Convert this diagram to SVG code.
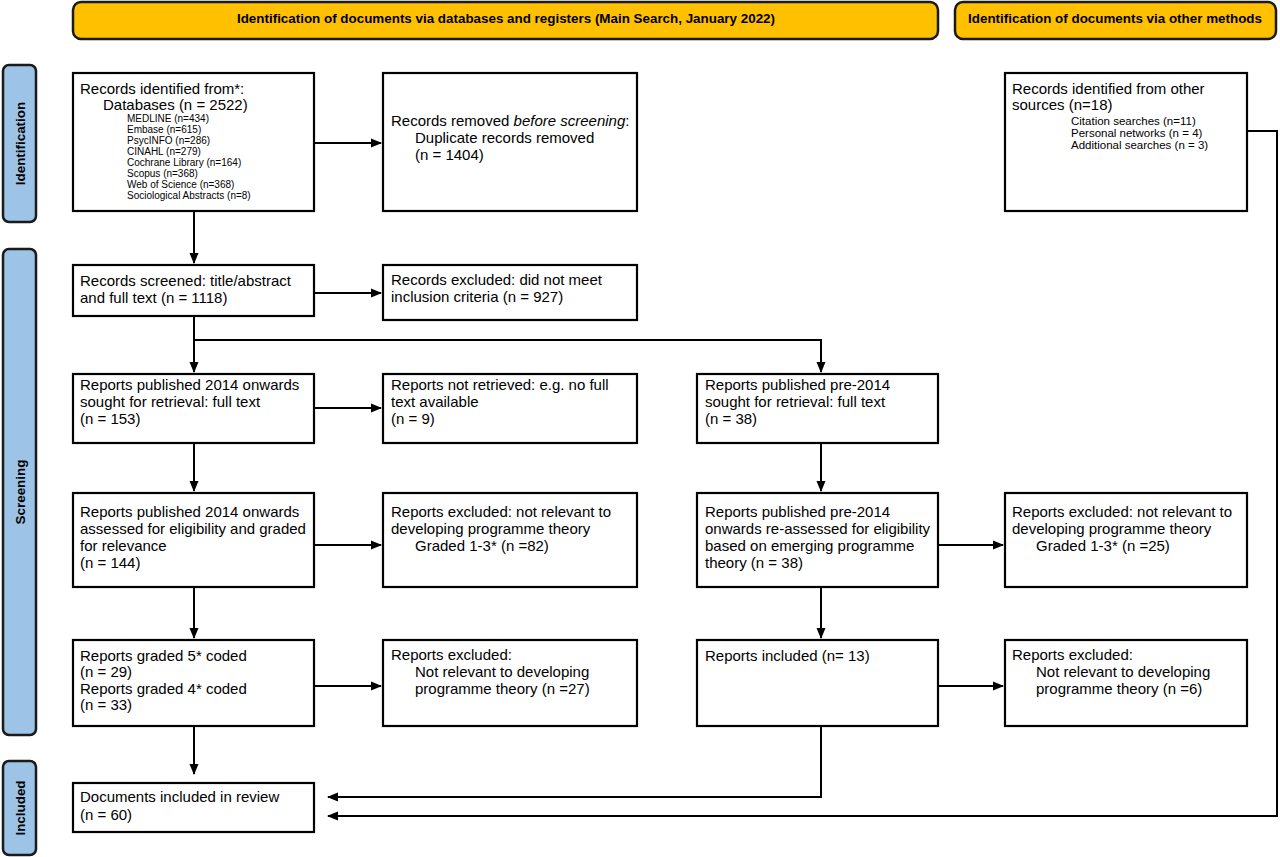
<svg xmlns="http://www.w3.org/2000/svg" width="1280" height="857" viewBox="0 0 1280 857">
<defs>
<marker id="ah" markerWidth="11" markerHeight="10" refX="10" refY="5" orient="auto" markerUnits="userSpaceOnUse">
<path d="M0,0.5 L11,5 L0,9.5 Z" fill="#000"/>
</marker>
<style>
.hdr{fill:#FFC000;stroke:#1a1a1a;stroke-width:2.5}
.side{fill:#9DC3E6;stroke:#1a1a1a;stroke-width:2.5}
.box{fill:#fff;stroke:#000;stroke-width:2.2}
.t{font-family:"Liberation Sans",Arial,sans-serif;font-size:15px;fill:#000}
.s{font-family:"Liberation Sans",Arial,sans-serif;font-size:10px;fill:#000}
.s2{font-family:"Liberation Sans",Arial,sans-serif;font-size:11.5px;fill:#000}
.b{font-family:"Liberation Sans",Arial,sans-serif;font-size:13.4px;font-weight:bold;fill:#000}
.c{fill:none;stroke:#000;stroke-width:2}
</style>
</defs>
<rect width="1280" height="857" fill="#fff"/>

<g id="hdr-main"><rect class="hdr" x="73" y="2" width="865" height="37" rx="8"/><text class="b" x="506" y="22.5" text-anchor="middle">Identification of documents via databases and registers (Main Search, January 2022)</text></g>
<g id="hdr-other"><rect class="hdr" x="955" y="2" width="321" height="37" rx="8"/><text class="b" x="1115" y="22.5" text-anchor="middle">Identification of documents via other methods</text></g>

<g id="side-ident"><rect class="side" x="3" y="65" width="33" height="157" rx="6"/><text class="b" transform="translate(24.5,143.5) rotate(-90)" text-anchor="middle">Identification</text></g>
<g id="side-screen"><rect class="side" x="3" y="249" width="33" height="486" rx="6"/><text class="b" transform="translate(24.5,492) rotate(-90)" text-anchor="middle">Screening</text></g>
<g id="side-incl"><rect class="side" x="3" y="761" width="33" height="94" rx="6"/><text class="b" transform="translate(24.5,808) rotate(-90)" text-anchor="middle">Included</text></g>

<g id="n-identified"><rect class="box" x="73" y="73" width="241" height="138"/>
<text class="t" x="80" y="94">Records identified from*:</text>
<text class="t" x="103" y="110">Databases (n = 2522)</text>
<text class="s" x="127" y="122">MEDLINE (n=434)</text>
<text class="s" x="127" y="133">Embase (n=615)</text>
<text class="s" x="127" y="144">PsycINFO (n=286)</text>
<text class="s" x="127" y="155">CINAHL (n=279)</text>
<text class="s" x="127" y="166">Cochrane Library (n=164)</text>
<text class="s" x="127" y="177">Scopus (n=368)</text>
<text class="s" x="127" y="188">Web of Science (n=368)</text>
<text class="s" x="127" y="199">Sociological Abstracts (n=8)</text>
</g>
<g id="n-removed"><rect class="box" x="383" y="73" width="254" height="138"/>
<text class="t" x="391" y="126">Records removed <tspan font-style="italic">before screening</tspan>:</text>
<text class="t" x="415" y="143">Duplicate records removed</text>
<text class="t" x="415" y="160">(n = 1404)</text>
</g>
<g id="n-other"><rect class="box" x="1005" y="73" width="242" height="138"/>
<text class="t" x="1012" y="94">Records identified from other</text>
<text class="t" x="1012" y="110">sources (n=18)</text>
<text class="s2" x="1071" y="125">Citation searches (n=11)</text>
<text class="s2" x="1071" y="137">Personal networks (n = 4)</text>
<text class="s2" x="1071" y="149">Additional searches (n = 3)</text>
</g>
<g id="n-screened"><rect class="box" x="73" y="265" width="241" height="51"/>
<text class="t" x="80" y="286">Records screened: title/abstract</text>
<text class="t" x="80" y="303">and full text (n = 1118)</text>
</g>
<g id="n-excl927"><rect class="box" x="383" y="265" width="254" height="55"/>
<text class="t" x="391" y="285">Records excluded: did not meet</text>
<text class="t" x="391" y="302">inclusion criteria (n = 927)</text>
</g>
<g id="n-sought2014"><rect class="box" x="73" y="374" width="241" height="69"/>
<text class="t" x="80" y="390">Reports published 2014 onwards</text>
<text class="t" x="80" y="407">sought for retrieval: full text</text>
<text class="t" x="80" y="424">(n = 153)</text>
</g>
<g id="n-notretr"><rect class="box" x="383" y="374" width="254" height="69"/>
<text class="t" x="391" y="390">Reports not retrieved: e.g. no full</text>
<text class="t" x="391" y="407">text available</text>
<text class="t" x="391" y="424">(n = 9)</text>
</g>
<g id="n-soughtpre"><rect class="box" x="697" y="374" width="241" height="69"/>
<text class="t" x="705" y="390">Reports published pre-2014</text>
<text class="t" x="705" y="407">sought for retrieval: full text</text>
<text class="t" x="705" y="424">(n = 38)</text>
</g>
<g id="n-assessed2014"><rect class="box" x="73" y="493" width="241" height="94"/>
<text class="t" x="80" y="517">Reports published 2014 onwards</text>
<text class="t" x="80" y="534">assessed for eligibility and graded</text>
<text class="t" x="80" y="551">for relevance</text>
<text class="t" x="80" y="568">(n = 144)</text>
</g>
<g id="n-excl82"><rect class="box" x="383" y="493" width="254" height="94"/>
<text class="t" x="391" y="517">Reports excluded: not relevant to</text>
<text class="t" x="391" y="534">developing programme theory</text>
<text class="t" x="415" y="551">Graded 1-3* (n =82)</text>
</g>
<g id="n-assessedpre"><rect class="box" x="697" y="493" width="241" height="94"/>
<text class="t" x="705" y="517">Reports published pre-2014</text>
<text class="t" x="705" y="534">onwards re-assessed for eligibility</text>
<text class="t" x="705" y="551">based on emerging programme</text>
<text class="t" x="705" y="568">theory (n = 38)</text>
</g>
<g id="n-excl25"><rect class="box" x="1005" y="493" width="242" height="94"/>
<text class="t" x="1012" y="517">Reports excluded: not relevant to</text>
<text class="t" x="1012" y="534">developing programme theory</text>
<text class="t" x="1036" y="551">Graded 1-3* (n =25)</text>
</g>
<g id="n-graded"><rect class="box" x="73" y="640" width="241" height="86"/>
<text class="t" x="80" y="661">Reports graded 5* coded</text>
<text class="t" x="80" y="677">(n = 29)</text>
<text class="t" x="80" y="694">Reports graded 4* coded</text>
<text class="t" x="80" y="710">(n = 33)</text>
</g>
<g id="n-excl27"><rect class="box" x="383" y="640" width="254" height="86"/>
<text class="t" x="391" y="660">Reports excluded:</text>
<text class="t" x="415" y="677">Not relevant to developing</text>
<text class="t" x="415" y="694">programme theory (n =27)</text>
</g>
<g id="n-incl13"><rect class="box" x="697" y="640" width="241" height="86"/>
<text class="t" x="705" y="661">Reports included (n= 13)</text>
</g>
<g id="n-excl6"><rect class="box" x="1005" y="640" width="242" height="86"/>
<text class="t" x="1012" y="660">Reports excluded:</text>
<text class="t" x="1036" y="677">Not relevant to developing</text>
<text class="t" x="1036" y="694">programme theory (n =6)</text>
</g>
<g id="n-final"><rect class="box" x="73" y="783" width="241" height="49"/>
<text class="t" x="80" y="802">Documents included in review</text>
<text class="t" x="80" y="820">(n = 60)</text>
</g>

<g id="connectors">
<path class="c" d="M314,143 H381" marker-end="url(#ah)"/>
<path class="c" d="M194,211 V263" marker-end="url(#ah)"/>
<path class="c" d="M314,293 H381" marker-end="url(#ah)"/>
<path class="c" d="M194,316 V372" marker-end="url(#ah)"/>
<path class="c" d="M194,340 H821 V372" marker-end="url(#ah)"/>
<path class="c" d="M314,408 H381" marker-end="url(#ah)"/>
<path class="c" d="M194,443 V491" marker-end="url(#ah)"/>
<path class="c" d="M821,443 V491" marker-end="url(#ah)"/>
<path class="c" d="M314,545 H381" marker-end="url(#ah)"/>
<path class="c" d="M938,545 H1003" marker-end="url(#ah)"/>
<path class="c" d="M194,587 V638" marker-end="url(#ah)"/>
<path class="c" d="M821,587 V638" marker-end="url(#ah)"/>
<path class="c" d="M314,686 H381" marker-end="url(#ah)"/>
<path class="c" d="M938,686 H1003" marker-end="url(#ah)"/>
<path class="c" d="M194,726 V774" marker-end="url(#ah)"/>
<path class="c" d="M821,726 V797 H328" marker-end="url(#ah)"/>
<path class="c" d="M1247,131 H1277 V816 H328" marker-end="url(#ah)"/>
</g>
</svg>
